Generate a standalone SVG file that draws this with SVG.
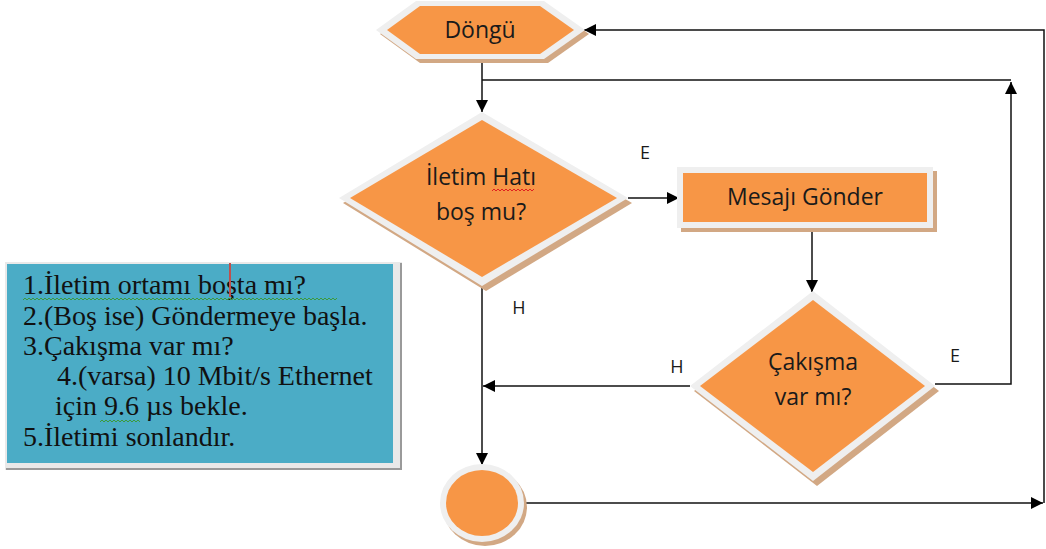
<svg xmlns="http://www.w3.org/2000/svg" width="1046" height="549" viewBox="0 0 1046 549">
<style>
.sh{fill:#D2A884}
.bd{fill:#EFEFEF}
.or{fill:#F79646}
.t{font-family:"Open Sans","Noto Sans","Liberation Sans",sans-serif;font-size:23px;fill:#1A1A1A;text-anchor:middle}
.lb{font-family:"Open Sans","Noto Sans","Liberation Sans",sans-serif;font-size:18px;fill:#1A1A1A;text-anchor:middle}
.bx{font-family:"Liberation Serif","Times New Roman",serif;font-size:28px;fill:#111}
.c{fill:none;stroke:#111;stroke-width:1.5}
.sq{fill:none;stroke-width:1}
</style>
<defs>
<marker id="ah" markerUnits="userSpaceOnUse" markerWidth="13" markerHeight="12" refX="12" refY="6" orient="auto">
<path d="M0,0 L12,6 L0,12 z" fill="#000"/>
</marker>
</defs>

<g id="connectors">
<path class="c" d="M482,59 V112" marker-end="url(#ah)"/>
<path class="c" d="M482,80 H1011"/>
<path class="c" d="M935,384 H1011 V82" marker-end="url(#ah)"/>
<path class="c" d="M628,198 H679" marker-end="url(#ah)"/>
<path class="c" d="M812,228 V292" marker-end="url(#ah)"/>
<path class="c" d="M690,386 H483" marker-end="url(#ah)"/>
<path class="c" d="M482,287 V465" marker-end="url(#ah)"/>
<path class="c" d="M526,503 H1043" marker-end="url(#ah)"/>
<path class="c" d="M1044,503 V30 H584" marker-end="url(#ah)"/>
</g>

<g id="node-dongu">
<polygon class="sh" points="380,34 420,5 548,5 589,34 548,63 420,63"/>
<polygon class="bd" points="376,30 416,1 544,1 585,30 544,59 416,59"/>
<polygon class="or" points="387,30 420,6 540,6 574,30 540,54 420,54"/>
<text class="t" x="480" y="38">Döngü</text>
</g>

<g id="node-iletim">
<polygon class="sh" points="486,117 632,203 486,291 343,203"/>
<polygon class="bd" points="482,112 628,198 482,286 339,198"/>
<polygon class="or" points="482,120 617,198 482,277 350,198"/>
<text class="t" x="481" y="185">İletim Hatı</text>
<text class="t" x="481" y="220">boş mu?</text>
<path class="sq" stroke="#E02020" d="M492,191 l2,-2 l2,2 l2,-2 l2,2 l2,-2 l2,2 l2,-2 l2,2 l2,-2 l2,2 l2,-2 l2,2 l2,-2 l2,2 l2,-2 l2,2 l2,-2 l2,2 l2,-2 l2,2 l2,-2"/>
</g>

<g id="node-mesaj">
<rect class="sh" x="681" y="171" width="256" height="61"/>
<rect class="bd" x="677" y="167" width="256" height="61"/>
<rect class="or" x="683" y="173" width="244" height="49"/>
<text class="t" x="805" y="205">Mesajı Gönder</text>
</g>

<g id="node-cakisma">
<polygon class="sh" points="817,296 939,391 817,486 694,391"/>
<polygon class="bd" points="813,291 935,386 813,481 690,386"/>
<polygon class="or" points="813,300 925,386 813,472 700,386"/>
<text class="t" x="813" y="370">Çakışma</text>
<text class="t" x="813" y="405">var mı?</text>
</g>

<g id="node-end">
<ellipse class="sh" cx="485" cy="507" rx="42" ry="39"/>
<ellipse class="bd" cx="482" cy="503" rx="42" ry="39"/>
<ellipse class="or" cx="482" cy="503" rx="36" ry="33"/>
</g>

<g id="labels">
<text class="lb" x="645" y="159">E</text>
<text class="lb" x="519" y="314">H</text>
<text class="lb" x="677" y="373">H</text>
<text class="lb" x="955" y="362">E</text>
</g>

<g id="note">
<rect x="5" y="262" width="397" height="208" fill="#E9E9E9"/>
<path d="M6,469 H401 V263" fill="none" stroke="#9A9A9A" stroke-width="2"/>
<rect x="7" y="264" width="386" height="199" fill="#4BACC6"/>
<text class="bx" x="23" y="294">1.İletim ortamı boşta mı?</text>
<text class="bx" x="23" y="325">2.(Boş ise) Göndermeye başla.</text>
<text class="bx" x="23" y="355">3.Çakışma var mı?</text>
<text class="bx" x="57" y="385">4.(varsa) 10 Mbit/s Ethernet</text>
<text class="bx" x="55" y="415">için 9.6 µs bekle.</text>
<text class="bx" x="23" y="446">5.İletimi sonlandır.</text>
<path class="sq" stroke="#3C9A3C" d="M23,300 l2,-2 l2,2 l2,-2 l2,2 l2,-2 l2,2 l2,-2 l2,2 l2,-2 l2,2 l2,-2 l2,2 l2,-2 l2,2 l2,-2 l2,2 l2,-2 l2,2 l2,-2 l2,2 l2,-2 l2,2 l2,-2 l2,2 l2,-2 l2,2 l2,-2 l2,2 l2,-2 l2,2 l2,-2 l2,2 l2,-2 l2,2 l2,-2 l2,2 l2,-2 l2,2 l2,-2 l2,2 l2,-2 l2,2 l2,-2 l2,2 l2,-2 l2,2 l2,-2 l2,2 l2,-2 l2,2 l2,-2 l2,2 l2,-2 l2,2 l2,-2 l2,2 l2,-2 l2,2 l2,-2 l2,2 l2,-2 l2,2 l2,-2 l2,2 l2,-2 l2,2 l2,-2 l2,2 l2,-2 l2,2 l2,-2 l2,2 l2,-2 l2,2 l2,-2 l2,2 l2,-2 l2,2 l2,-2 l2,2 l2,-2 l2,2 l2,-2 l2,2 l2,-2 l2,2 l2,-2 l2,2 l2,-2 l2,2 l2,-2 l2,2 l2,-2 l2,2 l2,-2 l2,2 l2,-2 l2,2 l2,-2 l2,2 l2,-2 l2,2 l2,-2 l2,2 l2,-2 l2,2 l2,-2 l2,2 l2,-2 l2,2 l2,-2 l2,2 l2,-2 l2,2 l2,-2 l2,2 l2,-2 l2,2 l2,-2 l2,2 l2,-2 l2,2 l2,-2 l2,2 l2,-2 l2,2 l2,-2 l2,2 l2,-2 l2,2 l2,-2 l2,2 l2,-2 l2,2 l2,-2 l2,2 l2,-2 l2,2 l2,-2 l2,2 l2,-2 l2,2 l2,-2 l2,2 l2,-2 l2,2 l2,-2 l2,2 l2,-2 l2,2 l2,-2 l2,2 l2,-2 l2,2 l2,-2 l2,2 l2,-2"/>
<path class="sq" stroke="#3C9A3C" d="M100,422 l2,-2 l2,2 l2,-2 l2,2 l2,-2 l2,2 l2,-2 l2,2 l2,-2 l2,2 l2,-2 l2,2 l2,-2 l2,2 l2,-2 l2,2 l2,-2 l2,2 l2,-2 l2,2"/>
<rect x="229" y="263" width="2" height="34" fill="#C0504D"/>
</g>
</svg>
